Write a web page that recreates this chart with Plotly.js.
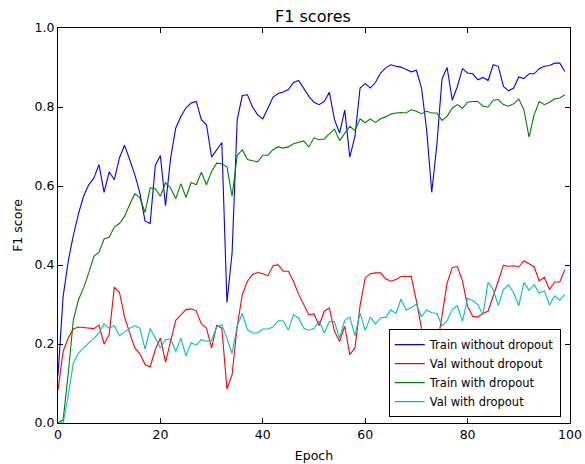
<!DOCTYPE html>
<html>
<head>
<meta charset="utf-8">
<script src="https://cdn.plot.ly/plotly-3.0.1.min.js"></script>
<style>html,body{margin:0;padding:0;background:#fff;}#chart{width:585px;height:464px;}</style>
</head>
<body>
<div id="chart"></div>
<script>
const epochs = Array.from({length: 100}, (_, i) => i);

const trainNoDropout = [
0.12,0.32,0.41,0.475,0.53,0.574,0.603,0.62,0.654,0.584,
0.636,0.616,0.671,0.703,0.667,0.629,0.582,0.511,0.505,0.652,
0.677,0.55,0.671,0.747,0.776,0.798,0.81,0.814,0.768,0.755,
0.673,0.692,0.71,0.305,0.43,0.768,0.829,0.831,0.8,0.78,
0.77,0.797,0.825,0.834,0.838,0.844,0.862,0.867,0.848,0.827,
0.812,0.806,0.814,0.837,0.768,0.734,0.792,0.673,0.726,0.848,
0.859,0.848,0.862,0.886,0.899,0.907,0.903,0.901,0.895,0.889,
0.893,0.848,0.742,0.584,0.705,0.871,0.9,0.817,0.852,0.897,
0.886,0.884,0.869,0.875,0.867,0.907,0.903,0.852,0.841,0.848,
0.876,0.872,0.884,0.884,0.897,0.903,0.905,0.911,0.911,0.89];

const valNoDropout = [
0.084,0.181,0.215,0.238,0.243,0.242,0.241,0.239,0.248,0.2,
0.224,0.344,0.331,0.268,0.228,0.19,0.175,0.148,0.142,0.186,
0.215,0.154,0.207,0.26,0.274,0.287,0.289,0.284,0.251,0.24,
0.19,0.247,0.24,0.086,0.122,0.245,0.325,0.359,0.376,0.381,
0.378,0.373,0.398,0.401,0.384,0.384,0.359,0.325,0.3,0.274,
0.276,0.247,0.283,0.291,0.232,0.207,0.245,0.173,0.19,0.297,
0.367,0.378,0.38,0.38,0.365,0.359,0.363,0.371,0.371,0.371,
0.309,0.239,0.177,0.1,0.19,0.278,0.354,0.394,0.396,0.36,
0.295,0.27,0.268,0.278,0.283,0.321,0.363,0.399,0.397,0.398,
0.395,0.411,0.403,0.395,0.36,0.369,0.338,0.357,0.357,0.388];

const trainDropout = [
0.0,0.008,0.126,0.261,0.312,0.342,0.38,0.422,0.432,0.466,
0.471,0.496,0.505,0.523,0.553,0.58,0.57,0.533,0.595,0.593,
0.574,0.608,0.595,0.568,0.606,0.571,0.609,0.603,0.635,0.603,
0.637,0.658,0.656,0.648,0.574,0.677,0.692,0.667,0.664,0.661,
0.678,0.678,0.692,0.699,0.696,0.699,0.707,0.711,0.714,0.699,
0.722,0.717,0.719,0.732,0.744,0.715,0.734,0.751,0.74,0.77,
0.76,0.77,0.761,0.77,0.775,0.782,0.785,0.786,0.785,0.793,
0.789,0.783,0.789,0.785,0.785,0.766,0.777,0.797,0.806,0.797,
0.812,0.814,0.814,0.802,0.8,0.817,0.819,0.806,0.802,0.808,
0.82,0.793,0.724,0.78,0.814,0.806,0.812,0.821,0.823,0.831];

const valDropout = [
0.0,0.0,0.07,0.152,0.177,0.19,0.203,0.213,0.228,0.251,
0.24,0.246,0.221,0.23,0.24,0.246,0.24,0.187,0.239,0.215,
0.19,0.211,0.213,0.181,0.215,0.17,0.203,0.197,0.211,0.207,
0.209,0.243,0.249,0.215,0.176,0.246,0.277,0.236,0.228,0.228,
0.238,0.238,0.243,0.259,0.259,0.235,0.274,0.266,0.24,0.235,
0.24,0.258,0.228,0.257,0.256,0.215,0.26,0.268,0.221,0.278,
0.234,0.268,0.251,0.266,0.268,0.287,0.277,0.314,0.286,0.292,
0.301,0.269,0.286,0.279,0.277,0.246,0.259,0.287,0.297,0.258,
0.316,0.31,0.3,0.274,0.356,0.338,0.297,0.338,0.35,0.329,
0.297,0.356,0.336,0.35,0.329,0.335,0.298,0.322,0.311,0.325];

const seriesNames = ["Train without dropout","Val without dropout","Train with dropout","Val with dropout"];
const seriesColors = ["#0000ff","#ff0000","#008000","#00bfbf"];
const seriesData = [trainNoDropout, valNoDropout, trainDropout, valDropout];

const xTicks = [0,20,40,60,80,100];
const yTicks = [0,0.2,0.4,0.6,0.8,1.0];

const traces = seriesData.map((ys, i) => ({
  x: epochs, y: ys, type: 'scatter', mode: 'lines',
  name: seriesNames[i],
  line: {color: seriesColors[i], width: 1.1}
}));

const font = {family: 'DejaVu Sans, sans-serif', color: '#000'};

const layout = {
  width: 585, height: 464,
  margin: {l: 58, r: 15, t: 28, b: 41, pad: 0},
  paper_bgcolor: '#fff', plot_bgcolor: '#fff',
  font: Object.assign({size: 12.5}, font),
  title: {text: 'F1 scores', font: Object.assign({size: 16}, font), x: 0.535, xanchor: 'center', y: 0.965, yanchor: 'middle'},
  showlegend: true,
  legend: {
    x: 0.982, y: 0.015, xanchor: 'right', yanchor: 'bottom',
    bgcolor: '#fff', bordercolor: '#000', borderwidth: 1,
    font: Object.assign({size: 11.5}, font),
    itemwidth: 30, tracegroupgap: 0
  },
  xaxis: {
    range: [0, 100], tickvals: xTicks, ticktext: xTicks.map(String),
    ticks: 'inside', ticklen: 5, tickcolor: '#000', tickwidth: 1,
    showline: true, linecolor: '#000', linewidth: 1, mirror: 'ticks',
    showgrid: false, zeroline: false,
    tickfont: Object.assign({size: 12.5}, font),
    title: {text: 'Epoch', font: Object.assign({size: 12.5}, font), standoff: 10}
  },
  yaxis: {
    range: [0, 1], tickvals: yTicks, ticktext: yTicks.map(v => v.toFixed(1)),
    ticks: 'inside', ticklen: 5, tickcolor: '#000', tickwidth: 1,
    showline: true, linecolor: '#000', linewidth: 1, mirror: 'ticks',
    showgrid: false, zeroline: false,
    tickfont: Object.assign({size: 12.5}, font),
    title: {text: 'F1 score', font: Object.assign({size: 12.5}, font), standoff: 9}
  }
};

Plotly.newPlot('chart', traces, layout, {displayModeBar: false, staticPlot: true});
</script>
</body>
</html>
